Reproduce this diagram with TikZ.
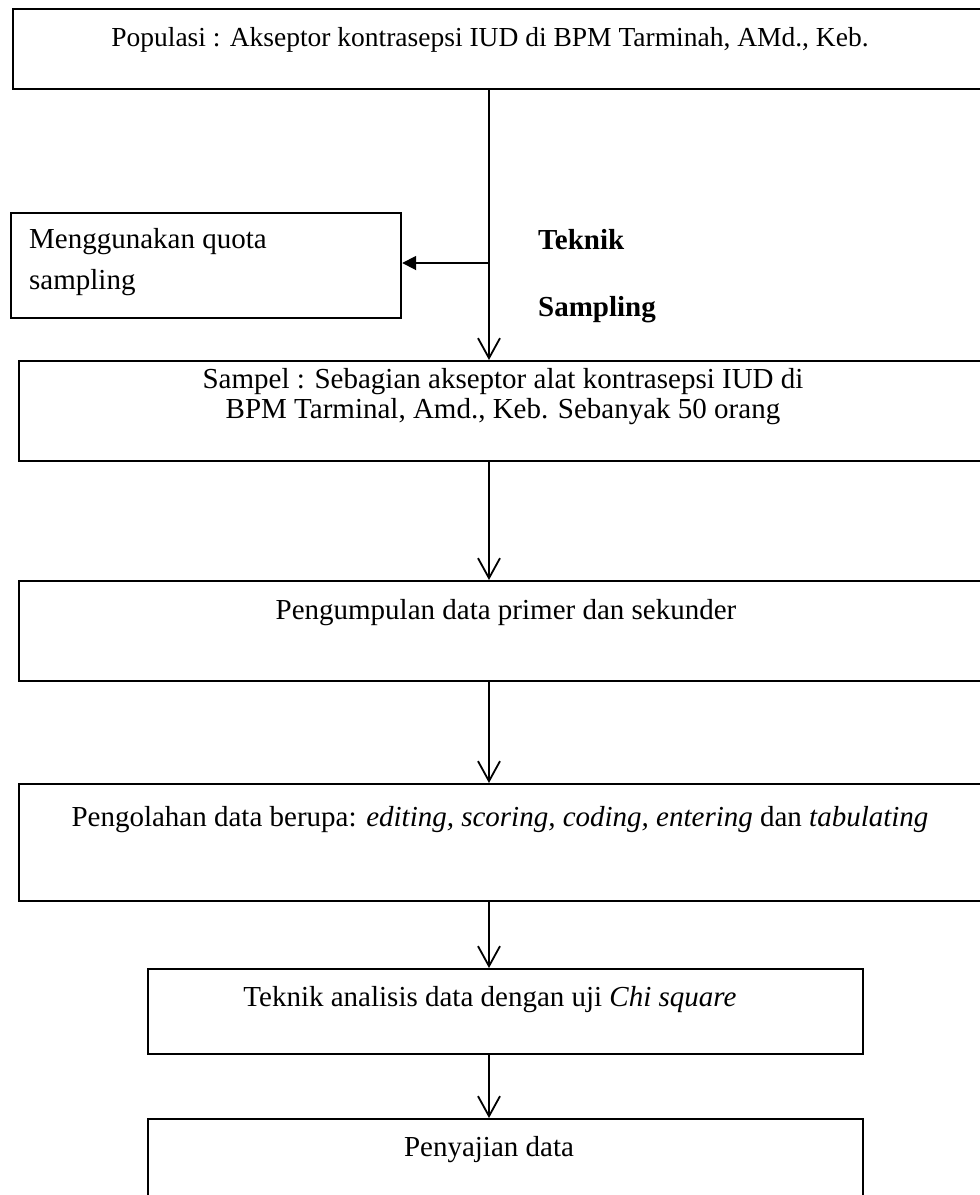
\documentclass[tikz,border=0pt]{standalone}
\usepackage{fontspec}
\setmainfont{Liberation Serif}
\usetikzlibrary{arrows.meta}
\begin{document}
\begin{tikzpicture}[x=1pt,y=-1pt,
  box/.style={draw, line width=2.2pt, rectangle, inner sep=0pt, anchor=north west},
  lbl/.style={font=\fontsize{29}{33}\selectfont, inner sep=0pt},
  flow/.style={line width=1.8pt, -{Straight Barb[length=20pt,width=22pt,line width=1.8pt]}},
  side/.style={line width=1.8pt, -{Triangle[length=14pt,width=14pt]}}]
\useasboundingbox (0,0) rectangle (980,1195);
% boxes
\node[box, minimum width=973pt, minimum height=80pt] (b1) at (12,8) {};
\node[box, minimum width=390pt, minimum height=105pt] (lb) at (10,212) {};
\node[box, minimum width=967pt, minimum height=100pt] (b2) at (18,360) {};
\node[box, minimum width=967pt, minimum height=100pt] (b3) at (18,580) {};
\node[box, minimum width=967pt, minimum height=117pt] (b4) at (18,783) {};
\node[box, minimum width=715pt, minimum height=85pt] (b5) at (147,968) {};
\node[box, minimum width=715pt, minimum height=95pt] (b6) at (147,1118) {};
% texts
\node[lbl, font=\fontsize{27.5}{33}\selectfont] (t1) at (490,40) {Populasi : Akseptor kontrasepsi IUD di BPM Tarminah, AMd., Keb.};
\node[lbl, anchor=west, align=left, font=\fontsize{29}{41}\selectfont] (tl) at (29,262) {Menggunakan quota\\sampling};
\node[lbl, anchor=west, font=\fontsize{29}{33}\selectfont\bfseries] (tk) at (538,240) {Teknik};
\node[lbl, anchor=west, font=\fontsize{29}{33}\selectfont\bfseries] (ts) at (538,310) {Sampling};
\node[lbl, align=center, font=\fontsize{29}{30}\selectfont] (t2) at (503,397) {Sampel : Sebagian akseptor alat kontrasepsi IUD di\\BPM Tarminal, Amd., Keb. Sebanyak 50 orang};
\node[lbl] (t3) at (506,613) {Pengumpulan data primer dan sekunder};
\node[lbl] (t4) at (500,820) {Pengolahan data berupa: \textit{editing, scoring, coding, entering} dan \textit{tabulating}};
\node[lbl] (t5) at (490,1000) {Teknik analisis data dengan uji \textit{Chi square}};
\node[lbl] (t6) at (489,1150) {Penyajian data};
% connectors
\coordinate (tx) at (489,0);
\coordinate (split) at (489,263);
\draw[flow] (b1.south -| tx) -- (b2.north -| tx);
\draw[side] (split) -- (split -| lb.east);
\draw[flow] (b2.south -| tx) -- (b3.north -| tx);
\draw[flow] (b3.south -| tx) -- (b4.north -| tx);
\draw[flow] (b4.south -| tx) -- (b5.north -| tx);
\draw[flow] (b5.south -| tx) -- (b6.north -| tx);
\end{tikzpicture}
\end{document}
